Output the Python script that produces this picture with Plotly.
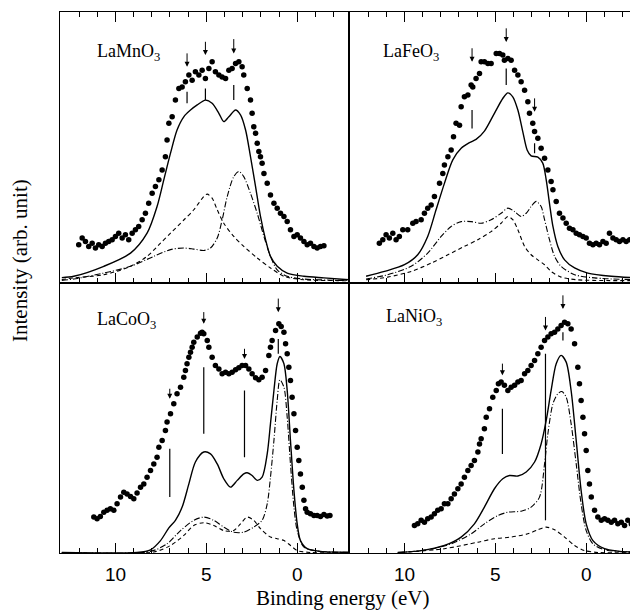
import plotly.graph_objects as go

# binding energy window shown in every panel (eV, reversed)
E_RANGE = [13.05, -2.85]

# ---------------- LaMnO3 (top left) ----------------
mn_dot_e = [12.02, 11.83, 11.65, 11.47, 11.28, 11.10, 10.92, 10.73, 10.55, 10.37,
            10.18, 10.00, 9.82, 9.63, 9.45, 9.27, 9.08, 8.90, 8.72, 8.53,
            8.35, 8.17, 7.98, 7.80, 7.61, 7.43, 7.25, 7.16, 7.06, 6.88,
            6.70, 6.51, 6.33, 6.15, 5.96, 5.78, 5.60, 5.41, 5.23, 5.05,
            4.86, 4.68, 4.50, 4.31, 4.13, 3.94, 3.76, 3.58, 3.39, 3.21,
            3.03, 2.94, 2.75, 2.57, 2.48, 2.39, 2.29, 2.20, 2.11, 2.02,
            1.93, 1.83, 1.65, 1.47, 1.28, 1.10, 0.92, 0.73, 0.55, 0.37,
            0.18, 0.00, -0.18, -0.37, -0.55, -0.73, -0.92, -1.10, -1.28, -1.47]
mn_dot_i = [13.7, 16.2, 14.9, 13.1, 14.3, 12.5, 13.7, 13.1, 14.3, 14.9,
            15.6, 16.8, 18.0, 16.2, 17.4, 15.6, 18.0, 19.3, 20.5, 23.0,
            25.4, 29.1, 32.8, 35.3, 37.8, 41.5, 46.4, 52.6, 58.8, 61.2,
            67.4, 71.7, 72.3, 74.2, 76.7, 74.8, 77.9, 76.7, 78.5, 75.4,
            79.1, 81.6, 77.9, 76.7, 76.0, 75.4, 78.5, 79.1, 81.0, 81.6,
            79.8, 76.7, 71.7, 67.4, 62.5, 57.5, 55.1, 51.4, 48.3, 46.4,
            44.0, 40.2, 36.5, 32.2, 29.1, 27.3, 25.4, 24.2, 22.3, 19.3,
            16.8, 17.4, 16.2, 14.9, 13.7, 14.3, 13.1, 12.5, 13.1, 13.3]
mn_solid_e = [12.95, 12.29, 10.64, 9.17, 8.26, 7.71, 7.34, 6.97, 6.61, 6.24, 5.87, 5.50,
              5.05, 4.68, 4.31, 4.04, 3.76, 3.39, 3.12, 2.84, 2.57, 2.29, 2.02,
              1.74, 1.47, 1.10, 0.55, -0.37, -1.47, -2.85]
mn_solid_i = [1.5, 2.0, 5.7, 10.6, 18.0, 27.9, 37.8, 47.7, 56.3, 61.2, 63.7, 65.6,
              67.4, 66.2, 62.5, 59.4, 61.2, 63.7, 61.9, 56.3, 46.4, 35.3, 24.2,
              15.6, 9.4, 5.7, 3.2, 2.0, 1.4, 0.7]
mn_dash_e = [12.95, 12.29, 10.64, 9.17, 8.26, 7.52, 6.97, 6.24, 5.69, 5.14, 4.95,
             4.68, 4.40, 4.04, 3.49, 2.94, 2.20, 1.47, 0.73, -0.37, -2.20, -2.85]
mn_dash_i = [0.8, 1.4, 2.6, 5.7, 9.4, 14.3, 18.0, 22.9, 26.7, 31.6, 32.5,
             31.0, 26.7, 21.7, 16.8, 13.1, 8.8, 5.1, 2.0, 0.7, 0.4, 0.3]
mn_dd_e = [12.95, 12.29, 10.64, 9.17, 7.89, 6.97, 6.24, 5.69, 5.14, 4.77, 4.40, 4.13,
           3.85, 3.49, 3.21, 2.94, 2.57, 2.20, 1.83, 1.47, 1.10, 0.55, -0.37,
           -2.20, -2.85]
mn_dd_i = [0.5, 1.0, 3.2, 5.7, 9.4, 11.9, 12.5, 12.1, 11.6, 12.5, 16.2, 22.9,
           31.6, 39.0, 40.9, 39.0, 32.8, 25.4, 16.8, 9.4, 4.4, 2.0, 1.0, 0.5, 0.4]
mn_peak_e = [6.06, 5.05, 3.49]
mn_arrow_top = [85.3, 89.6, 90.6]
mn_arrow_tip = [79.8, 84.1, 84.7]
mn_bar_hi = [70.5, 71.7, 73.0]
mn_bar_lo = [66.2, 67.4, 67.4]

# ---------------- LaFeO3 (top right) ----------------
fe_dot_e = [11.38, 11.19, 11.01, 10.83, 10.64, 10.46, 10.28, 10.09, 9.82, 9.54,
            9.36, 9.08, 8.90, 8.72, 8.53, 8.35, 8.07, 7.89, 7.80, 7.61,
            7.43, 7.30, 7.16, 6.97, 6.88, 6.70, 6.51, 6.33, 6.24, 6.06,
            5.87, 5.78, 5.60, 5.41, 5.23, 4.95, 4.77, 4.59, 4.50, 4.31,
            4.13, 3.94, 3.76, 3.58, 3.39, 3.21, 3.12, 2.94, 2.84, 2.66,
            2.48, 2.29, 2.11, 1.93, 1.83, 1.65, 1.47, 1.28, 1.10, 0.92,
            0.73, 0.55, 0.37, 0.18, 0.00, -0.18, -0.37, -0.55, -0.73, -0.92,
            -1.10, -1.28, -1.47, -1.65, -1.83, -2.02, -2.20, -2.39, -2.57, -2.75]
fe_dot_i = [14.3, 15.6, 17.4, 16.2, 18.0, 15.6, 16.8, 19.3, 19.3, 21.7,
            22.3, 23.0, 25.4, 27.3, 28.5, 31.6, 36.5, 40.2, 43.3, 46.4,
            48.9, 53.8, 58.8, 58.1, 64.9, 68.6, 69.3, 73.0, 72.3, 75.4,
            77.3, 81.6, 81.6, 81.0, 81.0, 84.7, 84.7, 84.1, 82.2, 82.8,
            82.2, 78.5, 76.7, 74.2, 71.1, 66.8, 62.5, 58.8, 55.7, 53.2,
            49.5, 45.8, 41.5, 37.2, 34.1, 29.8, 25.4, 23.6, 21.7, 19.8,
            19.3, 18.0, 17.4, 16.8, 16.2, 14.3, 13.7, 14.3, 13.7, 14.9,
            14.3, 18.0, 16.2, 15.6, 14.9, 15.6, 14.9, 15.6, 14.9, 15.3]
fe_solid_e = [12.11, 11.10, 10.00, 9.27, 8.72, 8.26, 7.80, 7.34, 6.88, 6.42, 6.06,
              5.60, 5.05, 4.59, 4.31, 4.04, 3.76, 3.49, 3.25, 3.03, 2.66, 2.39,
              2.20, 2.02, 1.83, 1.56, 1.19, 0.64, -0.09, -1.38, -2.85]
fe_solid_i = [2.0, 3.8, 6.3, 10.0, 16.8, 26.7, 36.5, 45.2, 49.5, 51.6, 52.8,
              55.9, 62.5, 68.0, 70.1, 68.6, 63.7, 55.7, 48.9, 46.7, 46.2, 44.0,
              37.8, 29.1, 20.5, 13.1, 8.1, 5.1, 3.2, 2.0, 1.4]
fe_dash_e = [12.11, 10.92, 9.63, 8.53, 7.61, 6.70, 5.96, 5.23, 4.68, 4.31, 4.04,
             3.76, 3.39, 3.03, 2.66, 2.29, 1.93, 1.38, 0.46, -2.85]
fe_dash_i = [0.7, 1.7, 3.8, 6.9, 10.0, 13.1, 15.6, 18.6, 21.7, 24.2, 23.0,
             19.3, 13.1, 10.0, 8.1, 6.3, 3.8, 1.7, 0.7, 0.4]
fe_dd_e = [12.11, 10.92, 9.63, 8.72, 7.98, 7.43, 6.88, 6.33, 5.78, 5.23, 4.68,
           4.31, 3.94, 3.58, 3.30, 3.03, 2.75, 2.48, 2.29, 2.02, 1.74, 1.38,
           0.64, -0.46, -2.85]
fe_dd_i = [1.0, 2.6, 5.7, 10.6, 16.8, 20.5, 22.3, 22.3, 21.7, 23.0, 25.4,
           27.3, 26.0, 24.2, 25.4, 27.9, 29.8, 27.9, 23.0, 15.6, 9.4, 5.7,
           2.6, 1.4, 0.7]
fe_peak_e = [6.28, 4.40, 2.84]
fe_arrow_top = [87.2, 94.6, 68.6]
fe_arrow_tip = [81.6, 89.0, 63.1]
fe_bar_hi = [63.7, 79.1, 51.4]
fe_bar_lo = [56.9, 73.0, 47.7]

# ---------------- LaCoO3 (bottom left) ----------------
co_dot_e = [11.19, 11.01, 10.83, 10.64, 10.46, 10.28, 10.09, 9.91, 9.72, 9.54,
            9.36, 9.17, 8.99, 8.81, 8.62, 8.44, 8.26, 8.07, 7.89, 7.71,
            7.61, 7.43, 7.25, 7.16, 6.97, 6.79, 6.61, 6.42, 6.24, 6.15,
            6.06, 5.96, 5.87, 5.78, 5.69, 5.50, 5.32, 5.23, 5.14, 4.95,
            4.86, 4.68, 4.50, 4.31, 4.13, 3.94, 3.76, 3.58, 3.39, 3.21,
            3.03, 2.84, 2.66, 2.48, 2.29, 2.11, 1.93, 1.74, 1.56, 1.47,
            1.38, 1.19, 1.01, 0.88, 0.73, 0.64, 0.55, 0.46, 0.37, 0.28,
            0.18, 0.09, 0.00, -0.09, -0.18, -0.28, -0.37, -0.46, -0.55, -0.73,
            -0.92, -1.10, -1.28, -1.47, -1.65, -1.80]
co_dot_i = [13.1, 12.5, 13.3, 14.9, 15.6, 16.2, 15.6, 18.0, 20.5, 22.3,
            21.7, 20.7, 19.9, 22.0, 24.2, 25.4, 27.9, 30.4, 32.8, 35.3,
            39.0, 41.5, 45.2, 48.3, 51.4, 55.1, 58.8, 61.2, 64.9, 67.4,
            69.9, 72.3, 74.2, 76.0, 77.9, 79.8, 81.2, 81.6, 81.0, 78.5,
            76.0, 72.3, 69.3, 68.0, 66.2, 66.8, 66.2, 66.8, 67.7, 68.4,
            69.3, 69.3, 68.0, 66.2, 64.7, 64.0, 64.9, 67.4, 73.0, 76.0,
            78.5, 82.2, 84.7, 83.7, 81.6, 77.3, 73.6, 68.6, 63.7, 57.5,
            51.4, 45.2, 39.0, 34.1, 29.1, 24.2, 19.3, 16.2, 14.9, 14.3,
            13.7, 13.7, 13.3, 14.1, 13.5, 13.7]
co_solid_e = [12.95, 8.81, 8.07, 7.52, 7.06, 6.70, 6.33, 5.96, 5.60, 5.14, 4.77, 4.40,
              4.04, 3.67, 3.30, 2.94, 2.75, 2.48, 2.20, 1.93, 1.65, 1.47, 1.28,
              1.10, 0.95, 0.73, 0.55, 0.37, 0.18, 0.00, -0.18, -0.55, -1.28, -2.85]
co_solid_i = [0.0, 0.0, 1.0, 4.4, 9.1, 11.9, 16.8, 25.4, 33.5, 37.2, 36.5, 32.8,
              27.3, 24.2, 26.7, 29.1, 29.5, 28.5, 26.7, 27.9, 36.5, 47.7, 60.0,
              69.9, 72.6, 69.9, 60.0, 41.5, 23.0, 10.6, 4.4, 1.4, 0.4, 0.1]
co_dash_e = [12.95, 7.89, 6.97, 6.24, 5.69, 5.14, 4.59, 4.04, 3.49, 3.12, 2.75, 2.39,
             2.02, 1.47, 1.10, 0.73, 0.37, 0.00, -0.73, -2.85]
co_dash_i = [0.0, 0.2, 2.6, 6.3, 10.0, 11.0, 10.0, 8.1, 8.1, 10.6, 13.1, 11.9,
             8.8, 5.7, 5.1, 4.4, 2.6, 0.7, 0.0, 0.0]
co_dd_e = [12.95, 8.07, 7.16, 6.42, 5.69, 5.14, 4.59, 4.04, 3.49, 2.94, 2.39, 1.93,
           1.65, 1.47, 1.28, 1.10, 0.95, 0.73, 0.55, 0.37, 0.18, 0.00, -0.37,
           -1.28, -2.85]
co_dd_i = [0.0, 0.4, 3.2, 8.1, 11.9, 13.1, 11.9, 9.4, 7.5, 7.5, 9.4, 11.9,
           18.0, 27.9, 41.5, 56.3, 64.0, 61.2, 50.1, 32.8, 16.8, 8.1, 2.0,
           0.4, 0.0]
co_peak_e = [7.01, 5.14, 2.90, 1.04]
co_arrow_top = [61.2, 89.6, 76.0, 94.6]
co_arrow_tip = [56.9, 84.7, 71.7, 89.0]
co_bar_hi = [38.4, 68.6, 60.0, 79.1]
co_bar_lo = [20.5, 44.0, 35.3, 73.6]

# ---------------- LaNiO3 (bottom right) ----------------
ni_dot_e = [9.45, 9.27, 9.08, 8.90, 8.72, 8.53, 8.35, 8.17, 7.98, 7.80,
            7.61, 7.43, 7.25, 7.06, 6.88, 6.70, 6.51, 6.33, 6.15, 5.96,
            5.87, 5.78, 5.60, 5.50, 5.32, 5.14, 4.95, 4.83, 4.68, 4.50,
            4.31, 4.13, 3.94, 3.76, 3.58, 3.39, 3.21, 3.03, 2.84, 2.66,
            2.48, 2.29, 2.11, 1.93, 1.74, 1.56, 1.38, 1.19, 1.01, 0.83,
            0.64, 0.46, 0.37, 0.28, 0.18, 0.09, 0.00, -0.09, -0.18, -0.28,
            -0.46, -0.64, -0.83, -1.01, -1.19, -1.38, -1.56, -1.74, -1.93, -2.11,
            -2.29, -2.48, -2.66, -2.81]
ni_dot_i = [10.0, 10.6, 11.9, 11.2, 12.5, 13.1, 14.3, 15.6, 16.2, 18.0,
            18.0, 19.9, 21.7, 23.6, 25.4, 27.9, 30.4, 32.2, 34.1, 37.2,
            40.2, 42.1, 45.8, 50.1, 53.2, 57.5, 60.0, 62.5, 63.1, 61.9,
            60.0, 61.2, 61.9, 63.1, 63.7, 66.2, 67.4, 69.3, 71.1, 73.6,
            76.0, 78.5, 79.8, 81.0, 81.6, 82.8, 84.1, 85.3, 84.7, 82.8,
            77.3, 68.6, 62.5, 56.3, 50.1, 44.0, 37.8, 30.4, 25.4, 20.5,
            15.6, 13.1, 11.9, 12.5, 11.9, 11.2, 11.9, 10.6, 11.2, 10.0,
            11.9, 10.6, 11.9, 11.9]
ni_solid_e = [10.37, 9.08, 7.80, 6.88, 6.15, 5.60, 5.05, 4.59, 4.22, 3.76, 3.30,
              2.84, 2.48, 2.20, 1.93, 1.65, 1.38, 1.10, 0.83, 0.55, 0.28, 0.00,
              -0.37, -1.01, -1.74, -2.85]
ni_solid_i = [0.0, 0.7, 2.6, 5.7, 10.6, 16.8, 23.6, 27.3, 28.5, 28.3, 29.8,
              33.5, 40.2, 48.9, 60.0, 69.9, 73.0, 70.5, 60.0, 41.5, 23.0, 10.6,
              4.4, 1.4, 0.5, 0.1]
ni_dash_e = [10.18, 7.80, 5.96, 5.05, 4.13, 3.21, 2.66, 2.20, 1.74, 1.19, 0.64,
             0.09, -0.64, -2.85]
ni_dash_i = [0.0, 1.4, 3.8, 5.1, 5.7, 6.9, 8.4, 9.4, 8.4, 5.7, 2.6,
             0.7, 0.0, 0.0]
ni_dd_e = [10.37, 8.72, 7.43, 6.33, 5.60, 4.86, 4.31, 3.58, 3.03, 2.57, 2.29,
           2.11, 1.83, 1.56, 1.34, 1.10, 0.83, 0.55, 0.28, 0.00, -0.37, -1.01,
           -2.85]
ni_dd_i = [0.0, 1.0, 3.2, 6.9, 10.6, 13.7, 14.9, 15.3, 16.8, 20.5, 32.8,
           43.9, 55.1, 58.8, 59.6, 57.5, 47.7, 32.8, 18.0, 8.1, 3.2, 1.0,
           0.1]
ni_peak_e = [4.61, 2.24, 1.28]
ni_arrow_top = [70.5, 87.8, 95.8]
ni_arrow_tip = [65.6, 82.2, 90.2]
ni_bar_hi = [53.2, 73.6, 81.6]
ni_bar_lo = [36.5, 11.9, 78.5]

panel_names = ["LaMnO<sub>3</sub>", "LaFeO<sub>3</sub>",
               "LaCoO<sub>3</sub>", "LaNiO<sub>3</sub>"]

SERIF = "Liberation Serif, Times New Roman, serif"
SANS = "Liberation Sans, Arial, sans-serif"

fig = go.Figure()
annotations = []


def add_panel(k, name, dot_e, dot_i, solid_e, solid_i, dash_e, dash_i, dd_e, dd_i,
              peak_e, arrow_top, arrow_tip, bar_lo, bar_hi, label_x, label_y):
    sfx = "" if k == 1 else str(k)
    xr, yr = "x" + sfx, "y" + sfx
    fig.add_trace(go.Scatter(x=solid_e, y=solid_i, mode="lines", xaxis=xr, yaxis=yr,
                             line=dict(color="black", width=1.4, shape="spline", smoothing=0.8)))
    fig.add_trace(go.Scatter(x=dash_e, y=dash_i, mode="lines", xaxis=xr, yaxis=yr,
                             line=dict(color="black", width=1.1, dash="4px,3px",
                                       shape="spline", smoothing=0.8)))
    fig.add_trace(go.Scatter(x=dd_e, y=dd_i, mode="lines", xaxis=xr, yaxis=yr,
                             line=dict(color="black", width=1.1, dash="6px,2px,1px,2px",
                                       shape="spline", smoothing=0.8)))
    fig.add_trace(go.Scatter(x=dot_e, y=dot_i, mode="markers", xaxis=xr, yaxis=yr,
                             marker=dict(color="black", size=5.5)))
    # vertical peak bars
    bx, by = [], []
    for e, lo, hi in zip(peak_e, bar_lo, bar_hi):
        bx += [e, e, None]
        by += [lo, hi, None]
    fig.add_trace(go.Scatter(x=bx, y=by, mode="lines", xaxis=xr, yaxis=yr,
                             line=dict(color="black", width=1.2)))
    # arrows
    for e, top, tip in zip(peak_e, arrow_top, arrow_tip):
        annotations.append(dict(x=e, y=tip, ax=e, ay=top, xref=xr, yref=yr,
                                axref=xr, ayref=yr, text="", showarrow=True,
                                arrowhead=2, arrowsize=1, arrowwidth=1,
                                arrowcolor="black"))
    annotations.append(dict(x=label_x, y=label_y, xref=xr + " domain", yref=yr + " domain",
                            text=name, showarrow=False, xanchor="left", yanchor="middle",
                            font=dict(family=SERIF, size=18, color="black")))


add_panel(1, panel_names[0], mn_dot_e, mn_dot_i, mn_solid_e, mn_solid_i, mn_dash_e, mn_dash_i,
          mn_dd_e, mn_dd_i, mn_peak_e, mn_arrow_top, mn_arrow_tip, mn_bar_lo, mn_bar_hi, 0.12, 0.85)
add_panel(2, panel_names[1], fe_dot_e, fe_dot_i, fe_solid_e, fe_solid_i, fe_dash_e, fe_dash_i,
          fe_dd_e, fe_dd_i, fe_peak_e, fe_arrow_top, fe_arrow_tip, fe_bar_lo, fe_bar_hi, 0.11, 0.85)
add_panel(3, panel_names[2], co_dot_e, co_dot_i, co_solid_e, co_solid_i, co_dash_e, co_dash_i,
          co_dd_e, co_dd_i, co_peak_e, co_arrow_top, co_arrow_tip, co_bar_lo, co_bar_hi, 0.12, 0.858)
add_panel(4, panel_names[3], ni_dot_e, ni_dot_i, ni_solid_e, ni_solid_i, ni_dash_e, ni_dash_i,
          ni_dd_e, ni_dd_i, ni_peak_e, ni_arrow_top, ni_arrow_tip, ni_bar_lo, ni_bar_hi, 0.12, 0.87)

# the page puts the figure 8px in from the top-left corner, so margins absorb that
annotations.append(dict(x=-0.069, y=0.54, xref="paper", yref="paper", text="Intensity (arb. unit)",
                        textangle=-90, showarrow=False, xanchor="center", yanchor="middle",
                        font=dict(family=SERIF, size=21, color="black")))
annotations.append(dict(x=0.488, y=-0.084, xref="paper", yref="paper", text="Binding energy (eV)",
                        showarrow=False, xanchor="center", yanchor="middle",
                        font=dict(family=SERIF, size=21, color="black")))


def xaxis_style(domain, anchor, top):
    return dict(domain=domain, anchor=anchor, range=E_RANGE, showgrid=False, zeroline=False,
                showline=True, linecolor="black", linewidth=1,
                mirror="ticks" if top else True,
                ticks="inside", ticklen=10, tickwidth=1, tickcolor="black",
                tick0=0, dtick=5, showticklabels=not top,
                tickfont=dict(family=SANS, size=19, color="black"),
                ticklabelstandoff=4,
                minor=dict(tick0=0, dtick=1, ticks="inside", ticklen=5, tickwidth=1,
                           tickcolor="black", showgrid=False))


def yaxis_style(domain, anchor, rng, left):
    return dict(domain=domain, anchor=anchor, range=rng, showgrid=False, zeroline=False,
                showline=True, linecolor="black", linewidth=1, mirror=left,
                ticks="", showticklabels=False)


fig.update_layout(
    width=630, height=603,
    margin=dict(l=52, r=0, t=4, b=58),
    paper_bgcolor="white", plot_bgcolor="white",
    showlegend=False,
    xaxis=xaxis_style([0, 0.5], "y", True),
    xaxis2=xaxis_style([0.5, 1], "y2", True),
    xaxis3=xaxis_style([0, 0.5], "y3", False),
    xaxis4=xaxis_style([0.5, 1], "y4", False),
    yaxis=yaxis_style([0.5, 1], "x", [-0.3, 100.1], True),
    yaxis2=yaxis_style([0.5, 1], "x2", [-0.3, 100.1], False),
    yaxis3=yaxis_style([0, 0.5], "x3", [-0.2, 100], True),
    yaxis4=yaxis_style([0, 0.5], "x4", [-0.2, 100], False),
    annotations=annotations,
)

fig.write_html("out.html")
